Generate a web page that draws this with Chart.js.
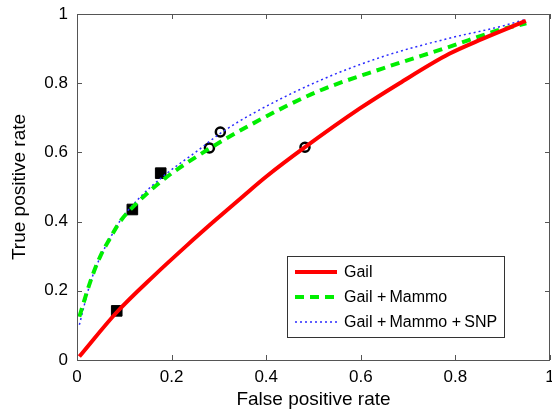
<!DOCTYPE html>
<html>
<head>
<meta charset="utf-8">
<script src="https://cdn.jsdelivr.net/npm/chart.js@4/dist/chart.umd.min.js"></script>
<style>
  html, body { margin: 0; padding: 0; background: #fff; }
  #wrap { width: 552px; height: 416px; }
</style>
</head>
<body>
<div id="wrap"><canvas id="roc" width="552" height="416"></canvas></div>
<script>
// curve data
const gailX = [0.005, 0.084, 0.163, 0.233, 0.289, 0.35, 0.401, 0.482, 0.598, 0.682, 0.787, 0.857, 0.949]
const gailY = [0.01, 0.138, 0.244, 0.332, 0.40, 0.472, 0.531, 0.615, 0.727, 0.80, 0.885, 0.928, 0.98]

const mammoX = [0.005, 0.028, 0.049, 0.07, 0.091, 0.133, 0.186, 0.253, 0.366, 0.507, 0.647, 0.787, 0.893, 0.95]
const mammoY = [0.125, 0.226, 0.299, 0.352, 0.40, 0.462, 0.525, 0.588, 0.679, 0.775, 0.843, 0.905, 0.954, 0.973]

const snpX = [0.005, 0.028, 0.049, 0.07, 0.091, 0.133, 0.186, 0.253, 0.303, 0.366, 0.507, 0.647, 0.787, 0.893, 0.945]
const snpY = [0.102, 0.222, 0.297, 0.352, 0.402, 0.47, 0.535, 0.603, 0.655, 0.708, 0.804, 0.877, 0.93, 0.963, 0.983]

// operating points
const squareX = [0.084, 0.117, 0.177]
const squareY = [0.142, 0.435, 0.54]
const circleX = [0.482, 0.28, 0.303]
const circleY = [0.615, 0.613, 0.659]

const tickValues = [0, 0.2, 0.4, 0.6, 0.8, 1]
const tickLabels = ['0', '0.2', '0.4', '0.6', '0.8', '1']
const seriesNames = ['Gail', 'Gail +\u2009Mammo', 'Gail +\u2009Mammo +\u2009SNP']

const FONT = "'Liberation Sans', Arial, Helvetica, sans-serif"

function toPoints(xs, ys) {
    return xs.map((x, i) => ({ x: x, y: ys[i] }))
}

function tickLabel(value) {
    const i = tickValues.findIndex(v => Math.abs(v - value) < 1e-6)
    return i >= 0 ? tickLabels[i] : ''
}

// matlab style box with inward ticks on all four sides
const framePlugin = {
    id: 'frame',
    afterDatasetsDraw(chart) {
        const { ctx, chartArea: a, scales } = chart
        ctx.save()
        ctx.strokeStyle = '#555'
        ctx.lineWidth = 1
        ctx.strokeRect(a.left + 0.5, a.top + 0.5, a.right - a.left - 1, a.bottom - a.top)
        ctx.beginPath()
        for (const v of tickValues) {
            const px = Math.round(scales.x.getPixelForValue(v)) + 0.5
            ctx.moveTo(px, a.bottom); ctx.lineTo(px, a.bottom - 5)
            ctx.moveTo(px, a.top); ctx.lineTo(px, a.top + 5)
            const py = Math.round(scales.y.getPixelForValue(v)) + 0.5
            ctx.moveTo(a.left, py); ctx.lineTo(a.left + 5, py)
            ctx.moveTo(a.right, py); ctx.lineTo(a.right - 5, py)
        }
        ctx.stroke()
        ctx.restore()
    }
}

// boxed legend in the lower right of the plot
const boxLegendPlugin = {
    id: 'boxLegend',
    afterDraw(chart) {
        const { ctx, chartArea: a } = chart
        const left = a.right - 263, top = a.bottom - 104
        const w = 217, h = 81
        ctx.save()
        ctx.fillStyle = '#fff'
        ctx.fillRect(left, top, w, h)
        ctx.strokeStyle = '#333'
        ctx.lineWidth = 1
        ctx.strokeRect(left + 0.5, top + 0.5, w, h)
        ctx.font = '16px ' + FONT
        ctx.textBaseline = 'middle'
        for (let i = 0; i < 3; i++) {
            const ds = chart.data.datasets[i]
            const y = top + 16 + i * 25
            ctx.beginPath()
            ctx.strokeStyle = ds.borderColor
            ctx.lineWidth = ds.borderWidth
            ctx.setLineDash(ds.borderDash || [])
            ctx.moveTo(left + 8, y)
            ctx.lineTo(left + 50, y)
            ctx.stroke()
            ctx.setLineDash([])
            ctx.fillStyle = '#000'
            ctx.fillText(seriesNames[i], left + 57, y + 1)
        }
        ctx.restore()
    }
}

new Chart(document.getElementById('roc'), {
    type: 'scatter',
    data: {
        datasets: [
            {
                label: seriesNames[0],
                data: toPoints(gailX, gailY),
                showLine: true,
                borderColor: '#ff0000',
                borderWidth: 4,
                pointRadius: 0,
                cubicInterpolationMode: 'monotone'
            },
            {
                label: seriesNames[1],
                data: toPoints(mammoX, mammoY),
                showLine: true,
                borderColor: '#00ee00',
                borderWidth: 4,
                borderDash: [9, 6],
                pointRadius: 0,
                cubicInterpolationMode: 'monotone'
            },
            {
                label: seriesNames[2],
                data: toPoints(snpX, snpY),
                showLine: true,
                borderColor: '#2a2aff',
                borderWidth: 1.5,
                borderDash: [2, 3],
                pointRadius: 0,
                cubicInterpolationMode: 'monotone'
            },
            {
                label: 'squares',
                data: toPoints(squareX, squareY),
                pointStyle: 'rect',
                pointRadius: 7.5,
                backgroundColor: '#000',
                borderColor: '#000',
                borderWidth: 1
            },
            {
                label: 'circles',
                data: toPoints(circleX, circleY),
                pointStyle: 'circle',
                pointRadius: 4.5,
                backgroundColor: 'rgba(0,0,0,0)',
                borderColor: '#000',
                borderWidth: 2.5
            }
        ]
    },
    options: {
        responsive: false,
        animation: false,
        layout: { autoPadding: false, padding: { top: 14, right: 2, left: 0, bottom: 0 } },
        plugins: {
            legend: { display: false },
            tooltip: { enabled: false }
        },
        scales: {
            x: {
                type: 'linear',
                min: 0, max: 1,
                afterFit: (s) => { s.height = 56; s.paddingLeft = 0; s.paddingRight = 0 },
                afterBuildTicks: (s) => { s.ticks = tickValues.map(v => ({ value: v })) },
                grid: { display: false, drawTicks: false },
                border: { display: false },
                ticks: {
                    color: '#000',
                    padding: 7,
                    maxRotation: 0,
                    font: { family: FONT, size: 17 },
                    callback: (v) => tickLabel(v)
                },
                title: {
                    display: true,
                    text: 'False positive rate',
                    color: '#000',
                    padding: { top: 1, bottom: 5 },
                    font: { family: FONT, size: 19 }
                }
            },
            y: {
                type: 'linear',
                min: 0, max: 1,
                afterFit: (s) => { s.width = 77; s.paddingTop = 0; s.paddingBottom = 0 },
                afterBuildTicks: (s) => { s.ticks = tickValues.map(v => ({ value: v })) },
                grid: { display: false, drawTicks: false },
                border: { display: false },
                ticks: {
                    color: '#000',
                    padding: 9,
                    font: { family: FONT, size: 17 },
                    callback: (v) => tickLabel(v)
                },
                title: {
                    display: true,
                    text: 'True positive rate',
                    color: '#000',
                    padding: { top: 8, bottom: 0 },
                    font: { family: FONT, size: 19 }
                }
            }
        }
    },
    plugins: [framePlugin, boxLegendPlugin]
})
</script>
</body>
</html>
